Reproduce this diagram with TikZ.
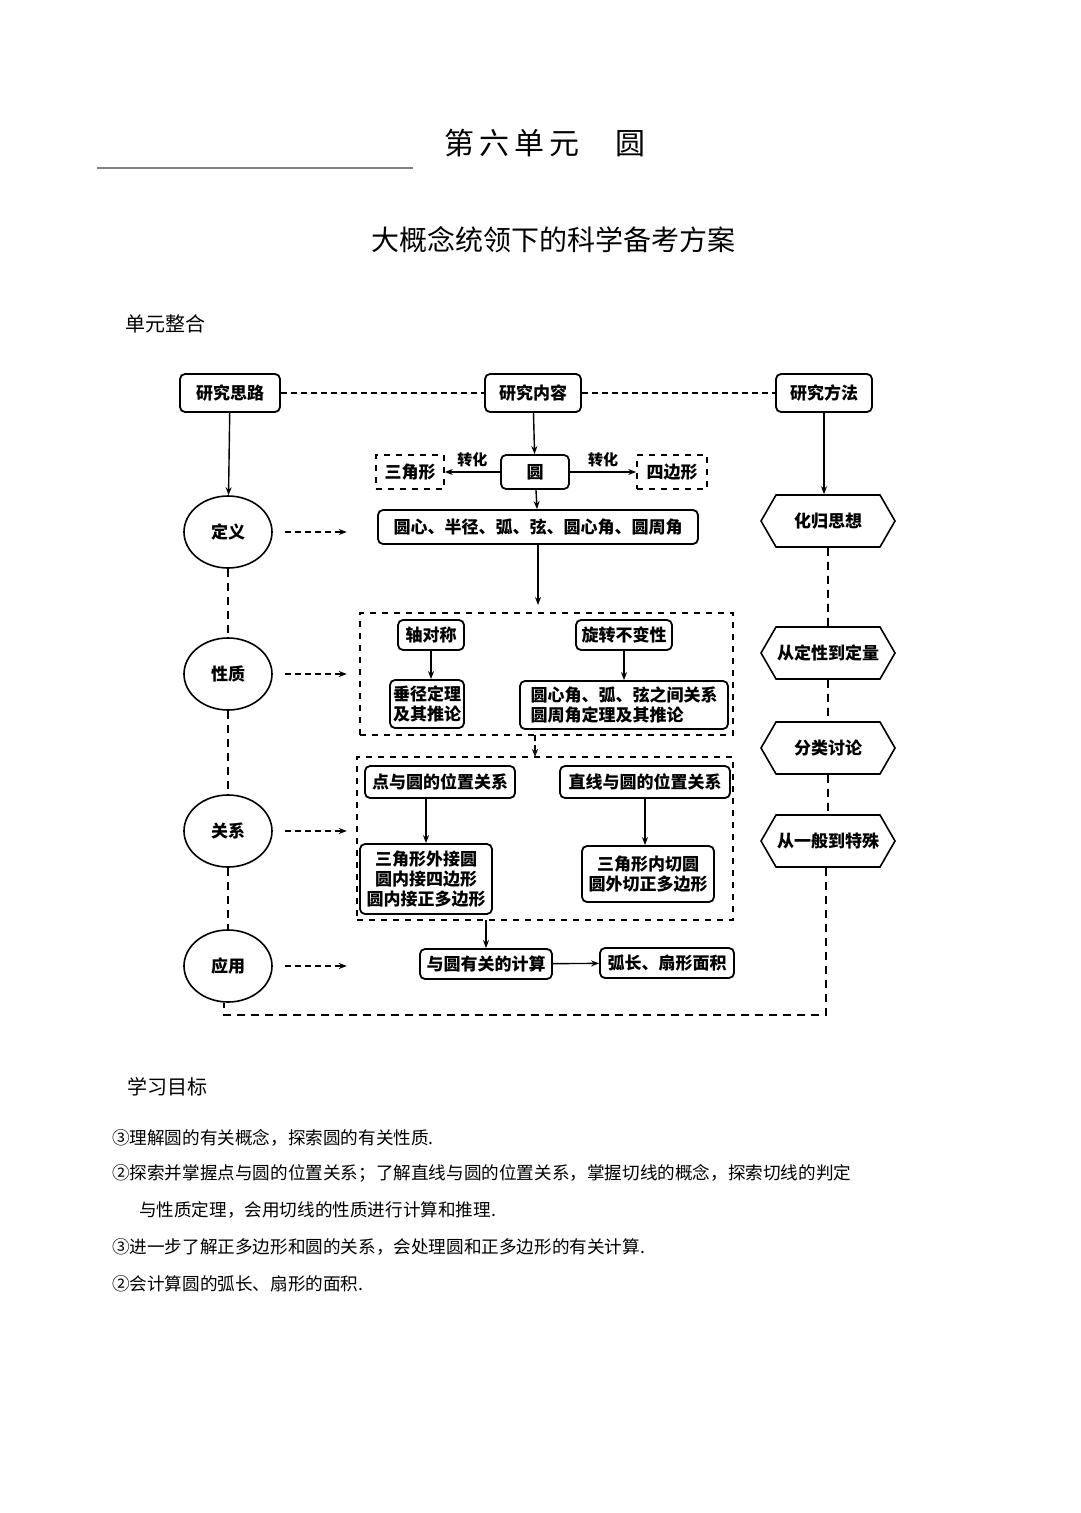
\documentclass[tikz,border=0pt]{standalone}
\usepackage{fontspec}
\setmainfont{Noto Sans CJK SC}
\usetikzlibrary{shapes.geometric,shapes.symbols,arrows.meta}
\begin{document}
\begin{tikzpicture}[x=0.5pt,y=-0.5pt,
  bx/.style={draw,rounded corners=2.5pt,line width=0.9pt,font=\fontsize{8.5}{10}\selectfont\bfseries,align=center,inner sep=0pt},
  dbx/.style={draw,dashed,line width=0.8pt,font=\fontsize{8.5}{10}\selectfont\bfseries,align=center,inner sep=0pt},
  el/.style={draw,ellipse,line width=0.8pt,minimum width=44pt,minimum height=36pt,font=\fontsize{8.5}{10}\selectfont\bfseries,inner sep=0pt},
  hx/.style={draw,signal,signal to=west and east,signal pointer angle=120,line width=0.8pt,minimum width=67pt,minimum height=26pt,font=\fontsize{8.5}{10}\selectfont\bfseries,inner sep=0pt},
  ar/.style={-{Stealth[length=4pt]},line width=0.7pt},
  dar/.style={-{Stealth[length=4pt]},line width=0.8pt,densely dashed},
  dl/.style={line width=0.8pt,dash pattern=on 4pt off 3pt}]
\useasboundingbox (0,0) rectangle (1080,1513);
\fill[white] (0,0) rectangle (1080,1513);
% header
\node[font=\fontsize{15}{18}\selectfont] (t1) at (545,143) {第\,六\,单\,元\quad\ 圆};
\draw[gray,line width=0.6pt] (97,168) -- (413,168);
\node[font=\fontsize{14}{16}\selectfont] (t2) at (553,240) {大概念统领下的科学备考方案};
\node[anchor=west,font=\fontsize{10}{12}\selectfont] (t3) at (118,324) {单元整合};
% top row
\node[bx,minimum width=50pt,minimum height=19pt] (a) at (230,393) {研究思路};
\node[bx,minimum width=48pt,minimum height=19pt] (b) at (533,393) {研究内容};
\node[bx,minimum width=48pt,minimum height=19pt] (c) at (824,393) {研究方法};
\draw[dl,densely dashed] (a) -- (b);
\draw[dl,densely dashed] (b) -- (c);
% center column
\node[bx,minimum width=34pt,minimum height=17pt] (y) at (535,472) {圆};
\node[dbx,minimum width=34pt,minimum height=17pt] (s3) at (410,472) {三角形};
\node[dbx,minimum width=35pt,minimum height=17pt] (s4) at (672,472) {四边形};
\draw[ar] (y) -- node[above,font=\fontsize{7.5}{9}\selectfont\bfseries,inner sep=2pt]{转化} (s3);
\draw[ar] (y) -- node[above,font=\fontsize{7.5}{9}\selectfont\bfseries,inner sep=2pt]{转化} (s4);
\draw[ar] (b) -- (y);
\node[bx,minimum width=160pt,minimum height=17pt] (d) at (538,527) {圆心、半径、弧、弦、圆心角、圆周角};
\draw[ar] (y) -- (d);
\node[dbx,minimum width=186.5pt,minimum height=61pt] (g1) at (546.5,674) {};
\draw[ar] (d) -- (538,605);
\node[bx,minimum width=33pt,minimum height=15pt] (p1) at (431,635) {轴对称};
\node[bx,minimum width=48pt,minimum height=15pt] (p2) at (624,635) {旋转不变性};
\node[bx,minimum width=37pt,minimum height=24pt] (p3) at (427,704) {垂径定理\\及其推论};
\node[bx,minimum width=104pt,minimum height=24pt,align=left] (p4) at (624,705) {圆心角、弧、弦之间关系\\圆周角定理及其推论};
\draw[ar] (p1) -- (p1|-p3.north);
\draw[ar] (p2) -- (p2|-p4.north);
\node[dbx,minimum width=188pt,minimum height=81.5pt] (g2) at (545,838.5) {};
\draw[dar] (535,735) -- (535,757);
\node[bx,minimum width=75pt,minimum height=16pt] (r1) at (440,782) {点与圆的位置关系};
\node[bx,minimum width=85pt,minimum height=16pt] (r2) at (645,782) {直线与圆的位置关系};
\node[bx,minimum width=66pt,minimum height=35pt] (r3) at (426,879) {三角形外接圆\\圆内接四边形\\圆内接正多边形};
\node[bx,minimum width=66pt,minimum height=28pt] (r4) at (648,874) {三角形内切圆\\圆外切正多边形};
\draw[ar] (r1.south-|r3) -- (r3);
\draw[ar] (r2) -- (r2|-r4.north);
\node[bx,minimum width=66pt,minimum height=15pt] (k1) at (486,964) {与圆有关的计算};
\node[bx,minimum width=67pt,minimum height=15pt] (k2) at (667,963) {弧长、扇形面积};
\draw[ar] (486,920) -- (k1);
\draw[ar] (k1) -- (k2);
% left column
\node[el] (e1) at (228,532) {定义};
\node[el] (e2) at (228,674) {性质};
\node[el] (e3) at (228,831) {关系};
\node[el] (e4) at (228,966) {应用};
\draw[ar] (a) -- (e1);
\foreach \u/\v in {e1/e2,e2/e3,e3/e4} \draw[dl] (\u) -- (\v);
\foreach \e in {e1,e2,e3,e4} \draw[dar] ([xshift=6pt]\e.east) -- ++(62,0);
% right column
\node[hx] (h1) at (828,521) {化归思想};
\node[hx] (h2) at (828,653) {从定性到定量};
\node[hx] (h3) at (828,748) {分类讨论};
\node[hx] (h4) at (828,841) {从一般到特殊};
\draw[ar] (c) -- (c|-h1.north);
\foreach \u/\v in {h1/h2,h2/h3,h3/h4} \draw[dl] (\u) -- (\v);
\coordinate (q1) at (826,1015);
\coordinate (q2) at (224,1015);
\draw[dl] (h4.south-|q1) -- (q1) -- (q2) -- (q2|-e4.south);
% goals
\node[anchor=west,font=\fontsize{10}{12}\selectfont] (g0) at (120,1087) {学习目标};
\begin{scope}[every node/.style={anchor=west,font=\fontsize{8.8}{10}\selectfont}]
\node (l1) at (105,1138) {③理解圆的有关概念，探索圆的有关性质.};
\node (l2) at (105,1173) {②探索并掌握点与圆的位置关系；了解直线与圆的位置关系，掌握切线的概念，探索切线的判定};
\node (l3) at (132,1210) {与性质定理，会用切线的性质进行计算和推理.};
\node (l4) at (105,1247) {③进一步了解正多边形和圆的关系，会处理圆和正多边形的有关计算.};
\node (l5) at (105,1284) {②会计算圆的弧长、扇形的面积.};
\end{scope}
\end{tikzpicture}
\end{document}
